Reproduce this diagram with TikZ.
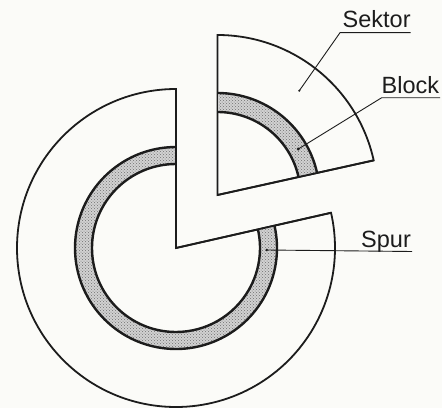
\documentclass[tikz,border=0pt]{standalone}
\usepackage{fontspec}
\setmainfont{Liberation Sans}
\usetikzlibrary{calc,patterns}
\definecolor{paper}{HTML}{FBFBF8}
\definecolor{ink}{HTML}{1C1C1C}
\definecolor{stipple}{HTML}{D2D2D2}
\definecolor{speck}{HTML}{707070}
\tikzset{
  edgeline/.style={draw=ink,line width=1.8pt,line join=miter},
  trackline/.style={draw=ink,line width=2.4pt},
  trackfill/.style={fill=stipple,postaction={pattern=crosshatch dots,pattern color=speck}},
  leader/.style={draw=ink,line width=0.9pt},
  lab/.style={font=\fontsize{23.5}{23.5}\selectfont,text=ink,anchor=base west,inner sep=0pt},
}
\begin{document}
\begin{tikzpicture}[x=1pt,y=1pt]
\useasboundingbox (0,0) rectangle (442,408);
\fill[paper] (0,0) rectangle (442,408);
% main disc
\coordinate (c) at (176,160);
\draw[edgeline] (c) -- ++(90:159) arc[start angle=90,end angle=372.8,radius=159] -- cycle;
\path[trackfill] ($(c)+(90:101)$) arc[start angle=90,end angle=372.8,radius=101] -- ($(c)+(12.8:84)$) arc[start angle=372.8,end angle=90,radius=84] -- cycle;
\draw[trackline] ($(c)+(90:101)$) arc[start angle=90,end angle=372.8,radius=101];
\draw[trackline] ($(c)+(90:84)$) arc[start angle=90,end angle=372.8,radius=84];
\draw[edgeline] (c) -- ++(90:159);
\draw[edgeline] (c) -- ++(12.8:159);
% sector
\coordinate (s) at (217.5,213);
\draw[edgeline] (s) -- ++(90:160) arc[start angle=90,end angle=12.5,radius=160] -- cycle;
\path[trackfill] ($(s)+(90:102)$) arc[start angle=90,end angle=12.5,radius=102] -- ($(s)+(12.5:83)$) arc[start angle=12.5,end angle=90,radius=83] -- cycle;
\draw[trackline] ($(s)+(90:102)$) arc[start angle=90,end angle=12.5,radius=102];
\draw[trackline] ($(s)+(90:83)$) arc[start angle=90,end angle=12.5,radius=83];
\draw[edgeline] (s) -- ++(90:160);
\draw[edgeline] (s) -- ++(12.5:160);
% labels
\node[lab] (sektor) at (342.5,380) {Sektor};
\node[lab] (block) at (381.5,315) {Block};
\node[lab] (spur) at (361,161) {Spur};
% leaders
\coordinate (sa) at (340,375.3);
\coordinate (sb) at (410.7,375.3);
\coordinate (sp) at (299.3,317.3);
\draw[leader] (sb) -- (sa) -- (sp);
\coordinate (ba) at (381.7,310.3);
\coordinate (bb) at (440,310.3);
\coordinate (bp) at (298.3,259);
\draw[leader] (bb) -- (ba) -- (bp);
\coordinate (ra) at (412,156.5);
\coordinate (rp) at (266.7,158);
\draw[leader] (ra) -- (rp);
\fill[ink] (sp) circle (1.2);
\fill[ink] (bp) circle (1.6);
\fill[ink] (rp) circle (1.4);
\end{tikzpicture}
\end{document}
